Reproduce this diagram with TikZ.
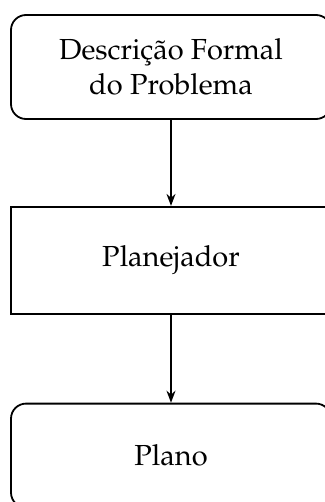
\documentclass[tikz,border=0pt]{standalone}
\usepackage[T1]{fontenc}
\usepackage{mathpazo}
\usetikzlibrary{arrows.meta, positioning}

\begin{document}
\begin{tikzpicture}[
        x=1pt, y=1pt,
        >={Stealth[length=12pt, width=9pt]},
        font=\fontsize{29}{35}\selectfont,
        node distance=86pt,
        % Define Styles
        endbox/.style={rectangle, draw=black, line width=1.8pt, minimum width=320pt, minimum height=104pt, align=center, rounded corners=15pt},
        procbox/.style={rectangle, draw=black, line width=1.8pt, minimum width=320pt, minimum height=107pt, align=center},
        arrow/.style={->, line width=1.6pt}
    ]
    \useasboundingbox (0,0) rectangle (324,-502);

    % --- BOXES ---
    \node[endbox] (desc) at (171,-67) {Descrição Formal\\do Problema};
    \node[procbox, below=of desc] (plan) {Planejador};
    \node[endbox, below=88pt of plan] (plano) {Plano};

    % --- ARROWS ---
    \draw[arrow] (desc) -- (plan);
    \draw[arrow] (plan) -- (plano);

\end{tikzpicture}
\end{document}
